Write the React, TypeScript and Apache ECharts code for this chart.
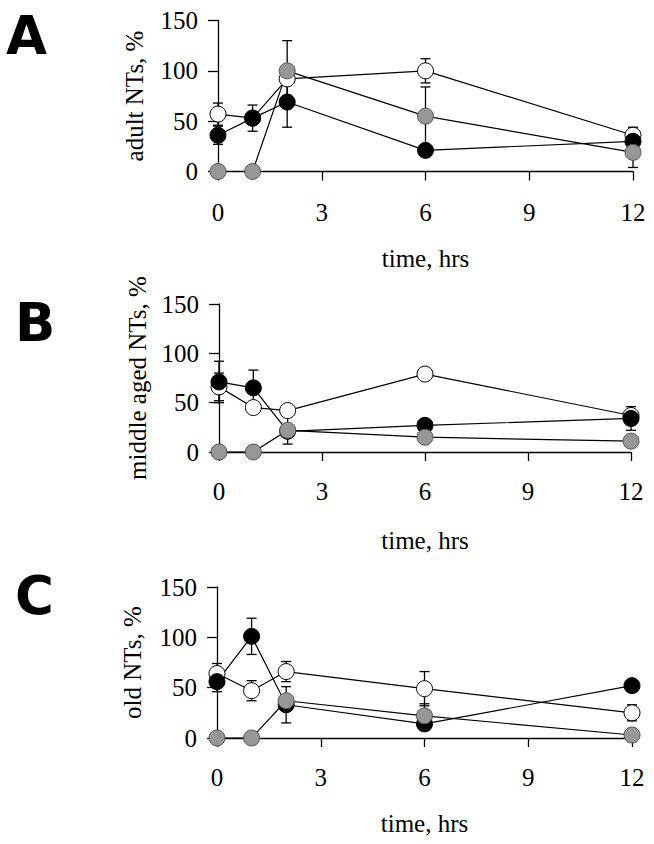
import React, { useEffect, useRef } from "react";
import * as echarts from "echarts";

const TIMES = [0, 1, 2, 6, 12];
const PANEL_LETTERS = ["A", "B", "C"];
const Y_NAMES = ["adult NTs, %", "middle aged NTs, %", "old NTs, %"];
const X_NAME = "time, hrs";

// Panel A (adult)
const A_WHITE = [57, 53, 92, 100, 36];
const A_WHITE_ERR = [11, 0, 0, 12, 8];
const A_BLACK = [36, 53, 69, 21, 30];
const A_BLACK_ERR = [9, 13, 25, 0, 0];
const A_GRAY = [0, 0, 100, 55, 19];
const A_GRAY_ERR = [0, 0, 30, 29, 15];

// Panel B (middle aged)
const B_WHITE = [66, 45, 42, 79, 37];
const B_WHITE_ERR = [14, 0, 0, 0, 0];
const B_BLACK = [71, 65, 21, 27, 34];
const B_BLACK_ERR = [21, 18, 0, 0, 12];
const B_GRAY = [0, 0, 22, 15, 11];
const B_GRAY_ERR = [0, 0, 14, 0, 0];

// Panel C (old)
const C_WHITE = [64, 47, 66, 49, 25];
const C_WHITE_ERR = [10, 10, 10, 17, 8];
const C_BLACK = [56, 101, 33, 14, 52];
const C_BLACK_ERR = [10, 18, 18, 6, 0];
const C_GRAY = [0, 0, 37, 22, 3];
const C_GRAY_ERR = [0, 0, 0, 12, 0];

const PANELS = [
  { white: A_WHITE, whiteErr: A_WHITE_ERR, black: A_BLACK, blackErr: A_BLACK_ERR, gray: A_GRAY, grayErr: A_GRAY_ERR },
  { white: B_WHITE, whiteErr: B_WHITE_ERR, black: B_BLACK, blackErr: B_BLACK_ERR, gray: B_GRAY, grayErr: B_GRAY_ERR },
  { white: C_WHITE, whiteErr: C_WHITE_ERR, black: C_BLACK, blackErr: C_BLACK_ERR, gray: C_GRAY, grayErr: C_GRAY_ERR },
];

const GRIDS = [
  { left: 218, top: 20.5, width: 415, height: 151 },
  { left: 219, top: 304, width: 412, height: 148 },
  { left: 217, top: 587, width: 415, height: 151 },
];
const LABEL_MARGIN = [28, 27, 27];
const X_NAME_GAP = [74, 76, 73];
const Y_NAME_GAP = [71, 69, 72];
const LETTER_POS = [
  { x: 6, y: 35 },
  { x: 15, y: 322 },
  { x: 15, y: 595 },
];

const SERIF = "Liberation Serif";
const GRAY = "#979797";

export default function App() {
  const ref = useRef<HTMLDivElement>(null);
  useEffect(() => {
    if (!ref.current) return;
    const chart = echarts.init(ref.current, null, { renderer: "svg" });

    const grid: any[] = [];
    const xAxis: any[] = [];
    const yAxis: any[] = [];
    const series: any[] = [];

    PANELS.forEach((p, i) => {
      grid.push({ ...GRIDS[i], containLabel: false, outerBoundsMode: "none" });
      xAxis.push({
        type: "value",
        gridIndex: i,
        min: 0,
        max: 12,
        interval: 3,
        name: X_NAME,
        nameLocation: "middle",
        nameGap: X_NAME_GAP[i],
        nameTextStyle: { fontFamily: SERIF, fontSize: 25, color: "#000" },
        axisLine: { show: true, onZero: false, lineStyle: { color: "#000", width: 1.3 } },
        axisTick: { show: true, inside: false, length: 9, lineStyle: { color: "#000", width: 1.3 } },
        axisLabel: { fontFamily: SERIF, fontSize: 25, color: "#000", margin: LABEL_MARGIN[i] },
        splitLine: { show: false },
      });
      yAxis.push({
        type: "value",
        gridIndex: i,
        min: 0,
        max: 150,
        interval: 50,
        name: Y_NAMES[i],
        nameLocation: "middle",
        nameGap: Y_NAME_GAP[i],
        nameRotate: 90,
        nameTextStyle: { fontFamily: SERIF, fontSize: 25, color: "#000" },
        axisLine: { show: true, lineStyle: { color: "#000", width: 1.3 } },
        axisTick: { show: true, inside: false, length: 10, lineStyle: { color: "#000", width: 1.3 } },
        axisLabel: { fontFamily: SERIF, fontSize: 25, color: "#000", margin: 20 },
        splitLine: { show: false },
      });

      const groups = [
        { vals: p.white, errs: p.whiteErr, fill: "#ffffff", border: "#000" },
        { vals: p.black, errs: p.blackErr, fill: "#000000", border: "#000" },
        { vals: p.gray, errs: p.grayErr, fill: GRAY, border: "#555" },
      ];

      groups.forEach((g) => {
        const errData = TIMES.map((t, k) => [t, g.vals[k], g.errs[k]]).filter((d) => d[2] > 0);
        series.push({
          type: "custom",
          xAxisIndex: i,
          yAxisIndex: i,
          clip: false,
          z: 1,
          silent: true,
          encode: { x: 0, y: 1 },
          data: errData,
          renderItem: (params: any, api: any) => {
            const x = api.value(0);
            const y = api.value(1);
            const e = api.value(2);
            const top = api.coord([x, y + e]);
            const bot = api.coord([x, Math.max(0, y - e)]);
            const hw = 5;
            const st = { stroke: "#000", lineWidth: 1.3 };
            return {
              type: "group",
              children: [
                { type: "line", shape: { x1: top[0], y1: top[1], x2: bot[0], y2: bot[1] }, style: st },
                { type: "line", shape: { x1: top[0] - hw, y1: top[1], x2: top[0] + hw, y2: top[1] }, style: st },
                { type: "line", shape: { x1: bot[0] - hw, y1: bot[1], x2: bot[0] + hw, y2: bot[1] }, style: st },
              ],
            };
          },
        });
      });

      groups.forEach((g) => {
        series.push({
          type: "line",
          xAxisIndex: i,
          yAxisIndex: i,
          clip: false,
          z: 2,
          symbol: "circle",
          symbolSize: 16,
          showAllSymbol: true,
          data: TIMES.map((t, k) => [t, g.vals[k]]),
          lineStyle: { color: "#000", width: 1.2 },
          itemStyle: { color: g.fill, borderColor: g.border, borderWidth: 1 },
          emphasis: { disabled: true },
        });
      });
    });

    const graphic = PANEL_LETTERS.map((L, i) => ({
      type: "text",
      x: LETTER_POS[i].x,
      y: LETTER_POS[i].y,
      style: {
        text: L,
        font: "bold 53px 'DejaVu Sans'",
        fill: "#000",
        align: "left",
        verticalAlign: "middle",
      },
    }));

    chart.setOption({
      animation: false,
      backgroundColor: "#ffffff",
      grid,
      xAxis,
      yAxis,
      series,
      graphic,
    });
    return () => chart.dispose();
  }, []);

  return (
    <div
      ref={ref}
      style={{ position: "fixed", left: 0, top: 0, width: 654, height: 844 }}
    />
  );
}
